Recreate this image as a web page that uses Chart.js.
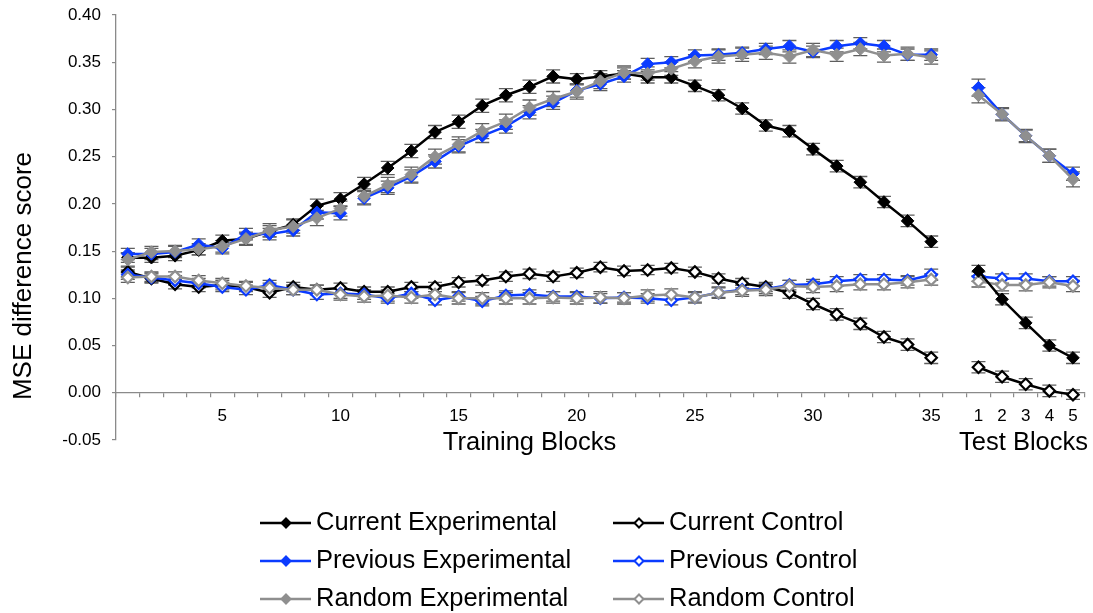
<!DOCTYPE html>
<html>
<head>
<meta charset="utf-8">
<script src="https://cdn.jsdelivr.net/npm/chart.js@4.4.1/dist/chart.umd.min.js"></script>
<style>
  html, body { margin: 0; padding: 0; background: #fff; }
  #wrap { width: 1093px; height: 613px; }
</style>
</head>
<body>
<div id="wrap"><canvas id="chart" width="1093" height="613"></canvas></div>
<script>
// 35 training blocks, an empty slot, then 5 test blocks
const blocks = ['1','2','3','4','5','6','7','8','9','10','11','12','13','14','15','16','17','18','19','20',
  '21','22','23','24','25','26','27','28','29','30','31','32','33','34','35','',
  '1','2','3','4','5'];
const trainingCount = 35;
const yTicks = { min: -0.05, max: 0.40, step: 0.05 };

const currentExperimental = [0.143,0.143,0.145,0.151,0.161,0.163,0.171,0.178,0.198,0.205,0.221,0.238,0.256,0.276,0.287,0.304,0.315,0.324,0.335,0.332,
  0.335,0.338,0.334,0.334,0.325,0.315,0.301,0.283,0.277,0.258,0.240,0.223,0.202,0.182,0.160,null,
  0.129,0.099,0.074,0.050,0.037];
const previousExperimental = [0.147,0.147,0.149,0.157,0.153,0.168,0.168,0.172,0.191,0.190,0.206,0.217,0.229,0.245,0.261,0.272,0.282,0.297,0.307,0.320,
  0.327,0.335,0.348,0.350,0.357,0.358,0.360,0.364,0.367,0.361,0.367,0.370,0.367,0.358,0.358,null,
  0.323,0.295,0.272,0.251,0.232];
const randomExperimental = [0.141,0.149,0.150,0.152,0.155,0.163,0.172,0.176,0.185,0.195,0.208,0.220,0.231,0.250,0.263,0.277,0.287,0.302,0.311,0.319,
  0.330,0.339,0.338,0.343,0.351,0.356,0.358,0.360,0.356,0.363,0.358,0.364,0.357,0.359,0.355,null,
  0.315,0.295,0.272,0.251,0.226];
const currentControl = [0.128,0.121,0.115,0.112,0.114,0.112,0.106,0.112,0.109,0.111,0.107,0.107,0.112,0.112,0.117,0.119,0.123,0.126,0.123,0.127,
  0.133,0.129,0.130,0.132,0.128,0.121,0.116,0.112,0.106,0.094,0.083,0.073,0.059,0.051,0.037,null,
  0.027,0.017,0.009,0.002,-0.002];
const previousControl = [0.125,0.122,0.119,0.116,0.112,0.109,0.114,0.109,0.104,0.105,0.104,0.100,0.105,0.098,0.102,0.097,0.103,0.104,0.102,0.102,
  0.100,0.101,0.100,0.098,0.101,0.106,0.109,0.110,0.114,0.115,0.118,0.120,0.120,0.119,0.125,null,
  0.123,0.121,0.121,0.118,0.118];
const randomControl = [0.122,0.123,0.123,0.119,0.116,0.113,0.111,0.109,0.109,0.104,0.102,0.103,0.101,0.104,0.100,0.100,0.100,0.100,0.101,0.100,
  0.101,0.100,0.103,0.104,0.101,0.106,0.108,0.109,0.113,0.112,0.113,0.115,0.115,0.117,0.120,null,
  0.118,0.114,0.114,0.117,0.113];

// standard errors
const currentExperimentalErr = [0.005,0.005,0.005,0.005,0.006,0.006,0.006,0.006,0.007,0.007,0.007,0.007,0.007,0.007,0.007,0.007,0.007,0.007,0.007,0.006,
  0.006,0.006,0.006,0.006,0.006,0.006,0.006,0.006,0.006,0.006,0.006,0.006,0.006,0.006,0.006,null,
  0.006,0.006,0.006,0.006,0.006];
const previousExperimentalErr = [0.006,0.006,0.006,0.006,0.006,0.006,0.006,0.006,0.007,0.007,0.007,0.007,0.007,0.007,0.007,0.007,0.007,0.007,0.007,0.007,
  0.007,0.006,0.006,0.006,0.006,0.006,0.006,0.006,0.006,0.006,0.006,0.006,0.006,0.006,0.006,null,
  0.009,0.006,0.006,0.007,0.007];
const randomExperimentalErr = [0.007,0.006,0.006,0.006,0.006,0.007,0.007,0.007,0.008,0.008,0.008,0.008,0.008,0.008,0.008,0.008,0.008,0.008,0.008,0.008,
  0.008,0.007,0.007,0.007,0.007,0.007,0.007,0.007,0.007,0.007,0.007,0.007,0.007,0.007,0.007,null,
  0.008,0.007,0.007,0.007,0.008];
const currentControlErr = [0.005,0.005,0.005,0.005,0.005,0.005,0.005,0.005,0.005,0.005,0.005,0.005,0.005,0.005,0.005,0.005,0.005,0.005,0.005,0.005,
  0.005,0.005,0.005,0.005,0.005,0.005,0.005,0.005,0.006,0.006,0.006,0.006,0.006,0.006,0.006,null,
  0.006,0.006,0.006,0.006,0.005];
const previousControlErr = [0.005,0.005,0.005,0.005,0.005,0.005,0.005,0.005,0.005,0.005,0.005,0.005,0.005,0.005,0.005,0.005,0.005,0.005,0.005,0.005,
  0.005,0.005,0.005,0.005,0.005,0.005,0.005,0.005,0.005,0.005,0.005,0.005,0.005,0.005,0.006,null,
  0.005,0.005,0.005,0.005,0.005];
const randomControlErr = [0.005,0.005,0.005,0.005,0.005,0.005,0.005,0.005,0.005,0.006,0.006,0.006,0.006,0.006,0.006,0.006,0.006,0.006,0.006,0.006,
  0.006,0.006,0.006,0.006,0.006,0.006,0.006,0.006,0.006,0.006,0.006,0.006,0.006,0.006,0.006,null,
  0.006,0.006,0.006,0.006,0.006];

// the experimental previous/random lines are not joined after block 10
const experimentalLineBreaks = [10];

const BLACK = '#000000';
const BLUE = '#0B3BFF';
const GRAY = '#8F8F8F';
const AXIS = '#8A8A8A';
const FONT = '"Liberation Sans", Arial, Helvetica, sans-serif';

function makeSeries(label, data, errors, color, filled, breaks, order) {
  return {
    label: label,
    data: data,
    errorValues: errors,
    filled: filled,
    borderColor: color,
    backgroundColor: filled ? color : '#ffffff',
    borderWidth: 2.5,
    pointStyle: 'rectRot',
    pointRadius: filled ? 6.3 : 5.7,
    pointBorderWidth: filled ? 1 : 2.2,
    pointBackgroundColor: filled ? color : '#ffffff',
    pointBorderColor: color,
    pointHoverRadius: 6,
    tension: 0,
    spanGaps: false,
    order: order,
    segment: {
      borderColor: (ctx) => breaks.includes(ctx.p0DataIndex + 1) ? 'rgba(0,0,0,0)' : undefined
    }
  };
}

const datasets = [
  makeSeries('Current Experimental', currentExperimental, currentExperimentalErr, BLACK, true, [], 3),
  makeSeries('Current Control', currentControl, currentControlErr, BLACK, false, [], 6),
  makeSeries('Previous Experimental', previousExperimental, previousExperimentalErr, BLUE, true, experimentalLineBreaks, 2),
  makeSeries('Previous Control', previousControl, previousControlErr, BLUE, false, [], 5),
  makeSeries('Random Experimental', randomExperimental, randomExperimentalErr, GRAY, true, experimentalLineBreaks, 1),
  makeSeries('Random Control', randomControl, randomControlErr, GRAY, false, [], 4)
];

// vertical error bars with caps, drawn underneath the lines
const errorBarPlugin = {
  id: 'errorBars',
  beforeDatasetsDraw(chart) {
    const ctx = chart.ctx;
    const yScale = chart.scales.y;
    ctx.save();
    ctx.strokeStyle = '#5E5E5E';
    ctx.lineWidth = 1.3;
    chart.data.datasets.forEach((ds, i) => {
      const meta = chart.getDatasetMeta(i);
      meta.data.forEach((pt, j) => {
        const v = ds.data[j];
        const e = ds.errorValues[j];
        if (v == null || e == null) return;
        const x = pt.x;
        const yTop = yScale.getPixelForValue(v + e);
        const yBot = yScale.getPixelForValue(v - e);
        ctx.beginPath();
        ctx.moveTo(x, yTop); ctx.lineTo(x, yBot);
        ctx.moveTo(x - 7, yTop); ctx.lineTo(x + 7, yTop);
        ctx.moveTo(x - 7, yBot); ctx.lineTo(x + 7, yBot);
        ctx.stroke();
      });
    });
    ctx.restore();
  }
};

// axis titles and the two-column legend
const annotationPlugin = {
  id: 'titlesAndLegend',
  afterDraw(chart) {
    const ctx = chart.ctx;
    const x = chart.scales.x;
    ctx.save();
    ctx.fillStyle = '#000';
    ctx.font = '25.5px ' + FONT;
    ctx.textBaseline = 'middle';
    ctx.textAlign = 'center';
    const trainMid = (x.getPixelForValue(0) + x.getPixelForValue(trainingCount - 1)) / 2;
    ctx.fillText('Training Blocks', trainMid, 443);
    ctx.textAlign = 'right';
    ctx.fillText('Test Blocks', chart.width - 5, 443);

    ctx.save();
    ctx.font = '26px ' + FONT;
    ctx.translate(24, 276);
    ctx.rotate(-Math.PI / 2);
    ctx.textAlign = 'center';
    ctx.fillText('MSE difference score', 0, 0);
    ctx.restore();

    // legend: experimental on the left, control on the right
    const rows = [523, 561, 599];
    const cols = [260, 613];
    chart.data.datasets.forEach((ds, i) => {
      const col = cols[i % 2];
      const row = rows[Math.floor(i / 2)];
      ctx.strokeStyle = ds.borderColor;
      ctx.lineWidth = 2.5;
      ctx.beginPath();
      ctx.moveTo(col, row); ctx.lineTo(col + 51, row);
      ctx.stroke();
      const mx = col + 26, r = 4.5;
      ctx.beginPath();
      ctx.moveTo(mx, row - r); ctx.lineTo(mx + r, row); ctx.lineTo(mx, row + r); ctx.lineTo(mx - r, row);
      ctx.closePath();
      ctx.fillStyle = ds.filled ? ds.borderColor : '#ffffff';
      ctx.fill();
      ctx.lineWidth = 2;
      ctx.stroke();
      ctx.fillStyle = '#000';
      ctx.textAlign = 'left';
      ctx.fillText(ds.label, col + 56, row);
    });
    ctx.restore();
  }
};

new Chart(document.getElementById('chart'), {
  type: 'line',
  data: { labels: blocks, datasets: datasets },
  plugins: [errorBarPlugin, annotationPlugin],
  options: {
    responsive: false,
    animation: false,
    layout: { padding: { left: 0, top: 15, right: 5, bottom: 173 } },
    plugins: { legend: { display: false }, tooltip: { enabled: false } },
    scales: {
      x: {
        type: 'category',
        position: { y: 0 },
        offset: true,
        grid: { display: true, drawOnChartArea: false, drawTicks: true, tickLength: 4, offset: true, color: AXIS, lineWidth: 1.2 },
        border: { display: true, color: AXIS, width: 1.3 },
        ticks: {
          autoSkip: false,
          maxRotation: 0,
          padding: 9,
          color: '#000',
          font: { family: FONT, size: 17 },
          callback: function (val, idx) {
            const lab = this.getLabelForValue(val);
            if (idx < trainingCount) return Number(lab) % 5 === 0 ? lab : '';
            return lab;
          }
        }
      },
      y: {
        min: yTicks.min,
        max: yTicks.max,
        afterFit(scale) {
          scale.width = 116;
          scale.paddingTop = 0;
          scale.paddingBottom = 0;
        },
        grid: { display: true, drawOnChartArea: false, drawTicks: true, tickLength: 4, color: AXIS, lineWidth: 1.2 },
        border: { display: true, color: AXIS, width: 1.3 },
        ticks: {
          stepSize: yTicks.step,
          padding: 11,
          color: '#000',
          font: { family: FONT, size: 17 },
          callback: (v) => v.toFixed(2)
        }
      }
    }
  }
});
</script>
</body>
</html>
